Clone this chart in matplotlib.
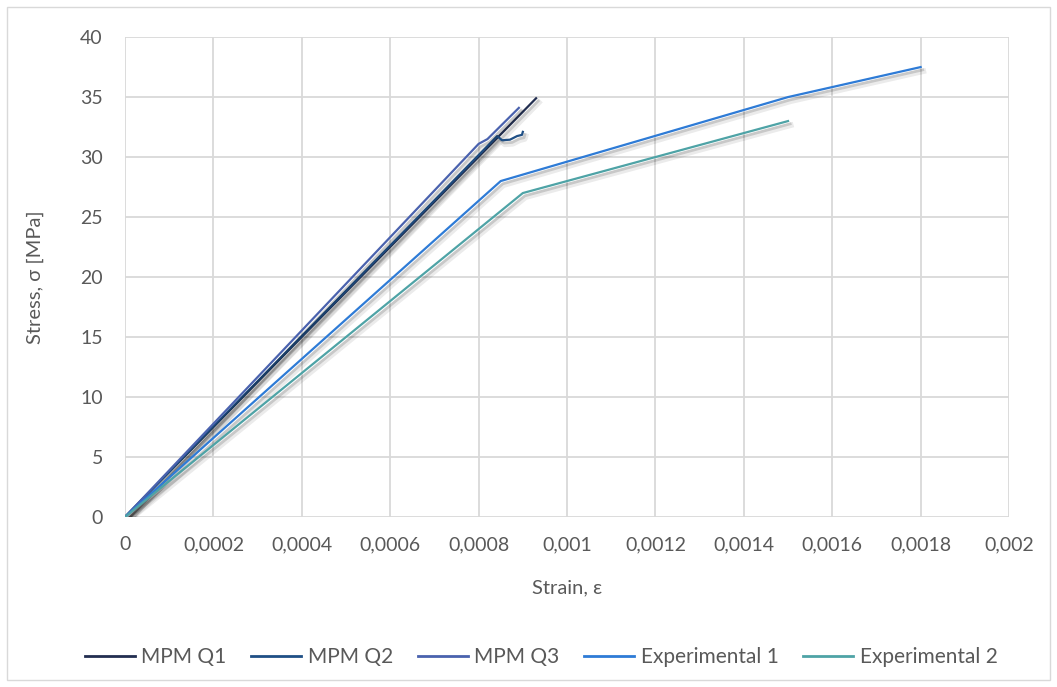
import matplotlib.pyplot as plt
import matplotlib.patheffects as pe
from matplotlib.lines import Line2D
from matplotlib.patches import Rectangle

# stress-strain curves: strain [-], stress [MPa]
q1_strain = [0, 0.00093]
q1_stress = [0, 34.9]

q2_strain = [0, 0.000842, 0.000853, 0.000871, 0.000887, 0.000898, 0.0009]
q2_stress = [0, 31.75, 31.4, 31.45, 31.75, 31.85, 32.1]

q3_strain = [0, 0.00080, 0.00082, 0.000891]
q3_stress = [0, 31.1, 31.5, 34.1]

exp1_strain = [0, 0.00085, 0.0015, 0.0018]
exp1_stress = [0, 28, 35, 37.5]

exp2_strain = [0, 0.0009, 0.0015]
exp2_stress = [0, 27, 33]

x_ticks = [0, 0.0002, 0.0004, 0.0006, 0.0008, 0.001, 0.0012, 0.0014, 0.0016, 0.0018, 0.002]
x_labels = ["0", "0,0002", "0,0004", "0,0006", "0,0008", "0,001",
            "0,0012", "0,0014", "0,0016", "0,0018", "0,002"]
y_ticks = [0, 5, 10, 15, 20, 25, 30, 35, 40]

series = [
    ("MPM Q1", q1_strain, q1_stress, "#222e50"),
    ("MPM Q2", q2_strain, q2_stress, "#1f4f85"),
    ("MPM Q3", q3_strain, q3_stress, "#4a62ae"),
    ("Experimental 1", exp1_strain, exp1_stress, "#2e7bd6"),
    ("Experimental 2", exp2_strain, exp2_stress, "#4ea3a6"),
]

plt.rcParams["font.family"] = ["Lato", "DejaVu Sans"]
text_color = "#595959"

fig = plt.figure(figsize=(10.57, 6.87), dpi=100)
ax = fig.add_axes([0.1183, 0.2475, 0.8363, 0.6985])

# outer chart border
fig.patches.append(Rectangle((7 / 1057, 7 / 687), 1043 / 1057, 673 / 687,
                             transform=fig.transFigure, fill=False,
                             edgecolor="#d9d9d9", linewidth=1.0))

# soft drop shadow under each curve
shadow = [pe.SimpleLineShadow(offset=(2, -3), shadow_color="black", alpha=0.08, linewidth=4),
          pe.SimpleLineShadow(offset=(1.5, -2), shadow_color="black", alpha=0.15, linewidth=2),
          pe.Normal()]

handles = []
for name, xs, ys, color in series:
    ax.plot(xs, ys, color=color, linewidth=1.6,
            path_effects=shadow, solid_joinstyle="round", zorder=3)
    handles.append(Line2D([], [], color=color, linewidth=2.0, label=name))

ax.set_xlim(0, 0.002)
ax.set_ylim(0, 40)
ax.set_xticks(x_ticks)
ax.set_xticklabels(x_labels)
ax.set_yticks(y_ticks)
ax.set_yticklabels([str(t) for t in y_ticks])
ax.tick_params(axis="x", length=0, labelsize=14, colors=text_color, pad=14)
ax.tick_params(axis="y", length=0, labelsize=14, colors=text_color, pad=16)

ax.grid(True, color="#d9d9d9", linewidth=1.3, zorder=0)
ax.set_axisbelow(True)
for spine in ax.spines.values():
    spine.set_visible(False)

ax.set_xlabel("Strain, ε", fontsize=14.5, color=text_color, labelpad=19)
ax.set_ylabel("Stress, σ [MPa]", fontsize=14.5, color=text_color, labelpad=26)

fig.legend(handles=handles, loc="center", bbox_to_anchor=(0.512, 1 - 657 / 687),
           ncol=5, frameon=False, fontsize=15, labelcolor=text_color,
           handlelength=2.4, columnspacing=1.2, handletextpad=0.3)

fig.savefig("out.png", dpi=100)
